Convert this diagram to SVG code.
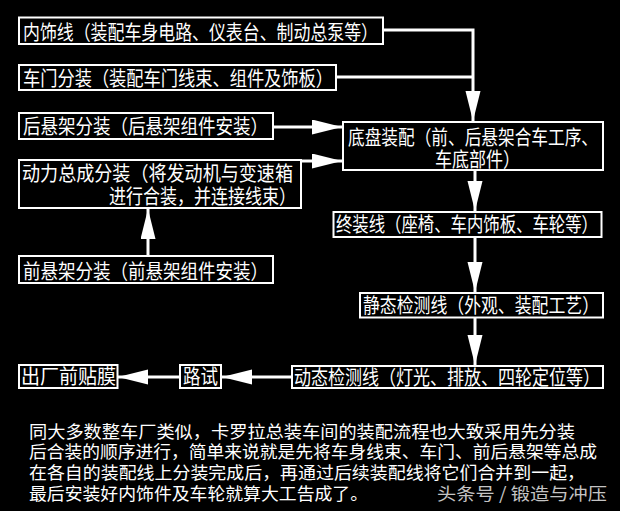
<svg xmlns="http://www.w3.org/2000/svg" width="620" height="511" viewBox="0 0 620 511">
<style>
.box{fill:#000;stroke:#fff;stroke-width:2}
.t{fill:#fff;font-family:"Noto Sans CJK SC","Noto Sans",sans-serif;font-size:20px}
.p{fill:#fff;font-family:"Noto Sans CJK SC","Noto Sans",sans-serif;font-size:17.5px}
.wm{fill:#c4c4c4;font-family:"Noto Sans CJK SC","Noto Sans",sans-serif;font-size:17.5px}
.c{fill:none;stroke:#fff;stroke-width:3}
</style>
<defs>
<marker id="ah" markerUnits="userSpaceOnUse" markerWidth="31" markerHeight="16" refX="30" refY="7.5" orient="auto">
<path d="M0,0 L30,7.5 L0,15 Z" fill="#fff"/>
</marker>
</defs>
<rect width="620" height="511" fill="#000"/>
<g id="connectors">
<path class="c" d="M383,30 H473 V121" marker-end="url(#ah)"/>
<path class="c" d="M336,77 H473"/>
<path class="c" d="M273,127 H342" marker-end="url(#ah)"/>
<path class="c" d="M300,161 H342" marker-end="url(#ah)"/>
<path class="c" d="M148,256 V209" marker-end="url(#ah)"/>
<path class="c" d="M475,171 V211" marker-end="url(#ah)"/>
<path class="c" d="M475,237 V292" marker-end="url(#ah)"/>
<path class="c" d="M475,318 V365" marker-end="url(#ah)"/>
<path class="c" d="M292,377 H222" marker-end="url(#ah)"/>
<path class="c" d="M180,377 H118" marker-end="url(#ah)"/>
</g>
<g id="n1">
<rect class="box" x="19" y="17.5" width="364" height="26.5"/>
<text class="t" x="23" y="39.5" textLength="355" lengthAdjust="spacingAndGlyphs">内饰线（装配车身电路、仪表台、制动总泵等）</text>
</g>
<g id="n2">
<rect class="box" x="19" y="65" width="317" height="25"/>
<text class="t" x="23" y="85.5" textLength="310" lengthAdjust="spacingAndGlyphs">车门分装（装配车门线束、组件及饰板）</text>
</g>
<g id="n3">
<rect class="box" x="19" y="113" width="254" height="26"/>
<text class="t" x="23" y="133.5" textLength="245" lengthAdjust="spacingAndGlyphs">后悬架分装（后悬架组件安装）</text>
</g>
<g id="n4">
<rect class="box" x="343" y="122" width="260" height="48"/>
<text class="t" x="348" y="144.5" textLength="250" lengthAdjust="spacingAndGlyphs">底盘装配（前、后悬架合车工序、</text>
<text class="t" x="435" y="167" textLength="85" lengthAdjust="spacingAndGlyphs">车底部件）</text>
</g>
<g id="n5">
<rect class="box" x="19" y="160" width="282" height="48"/>
<text class="t" x="22" y="181" textLength="271" lengthAdjust="spacingAndGlyphs">动力总成分装（将发动机与变速箱</text>
<text class="t" x="109" y="204" textLength="187" lengthAdjust="spacingAndGlyphs">进行合装，并连接线束）</text>
</g>
<g id="n6">
<rect class="box" x="19" y="256" width="254" height="27"/>
<text class="t" x="23" y="278.5" textLength="245" lengthAdjust="spacingAndGlyphs">前悬架分装（前悬架组件安装）</text>
</g>
<g id="n7">
<rect class="box" x="333.5" y="212" width="268" height="25"/>
<text class="t" x="336" y="232" textLength="262" lengthAdjust="spacingAndGlyphs">终装线（座椅、车内饰板、车轮等）</text>
</g>
<g id="n8">
<rect class="box" x="360" y="293" width="243" height="24.5"/>
<text class="t" x="363" y="313" textLength="236" lengthAdjust="spacingAndGlyphs">静态检测线（外观、装配工艺）</text>
</g>
<g id="n9">
<rect class="box" x="292" y="366" width="311" height="22"/>
<text class="t" x="294" y="384.5" textLength="306" lengthAdjust="spacingAndGlyphs">动态检测线（灯光、排放、四轮定位等）</text>
</g>
<g id="n10">
<rect class="box" x="180" y="365" width="41" height="23"/>
<text class="t" x="183" y="384" textLength="35" lengthAdjust="spacingAndGlyphs">路试</text>
</g>
<g id="n11">
<rect class="box" x="19" y="365" width="98.5" height="23"/>
<text class="t" x="21" y="384" textLength="95" lengthAdjust="spacingAndGlyphs">出厂前贴膜</text>
</g>
<g id="caption">
<text class="p" x="29" y="438" textLength="546" lengthAdjust="spacingAndGlyphs">同大多数整车厂类似，卡罗拉总装车间的装配流程也大致采用先分装</text>
<text class="p" x="29" y="457.5" textLength="568" lengthAdjust="spacingAndGlyphs">后合装的顺序进行，简单来说就是先将车身线束、车门、前后悬架等总成</text>
<text class="p" x="29" y="479" textLength="556" lengthAdjust="spacingAndGlyphs">在各自的装配线上分装完成后，再通过后续装配线将它们合并到一起，</text>
<text class="p" x="29" y="499.5" textLength="339" lengthAdjust="spacingAndGlyphs">最后安装好内饰件及车轮就算大工告成了。</text>
<text class="wm" x="437" y="499.5" textLength="170" lengthAdjust="spacingAndGlyphs">头条号 / 锻造与冲压</text>
</g>
</svg>
